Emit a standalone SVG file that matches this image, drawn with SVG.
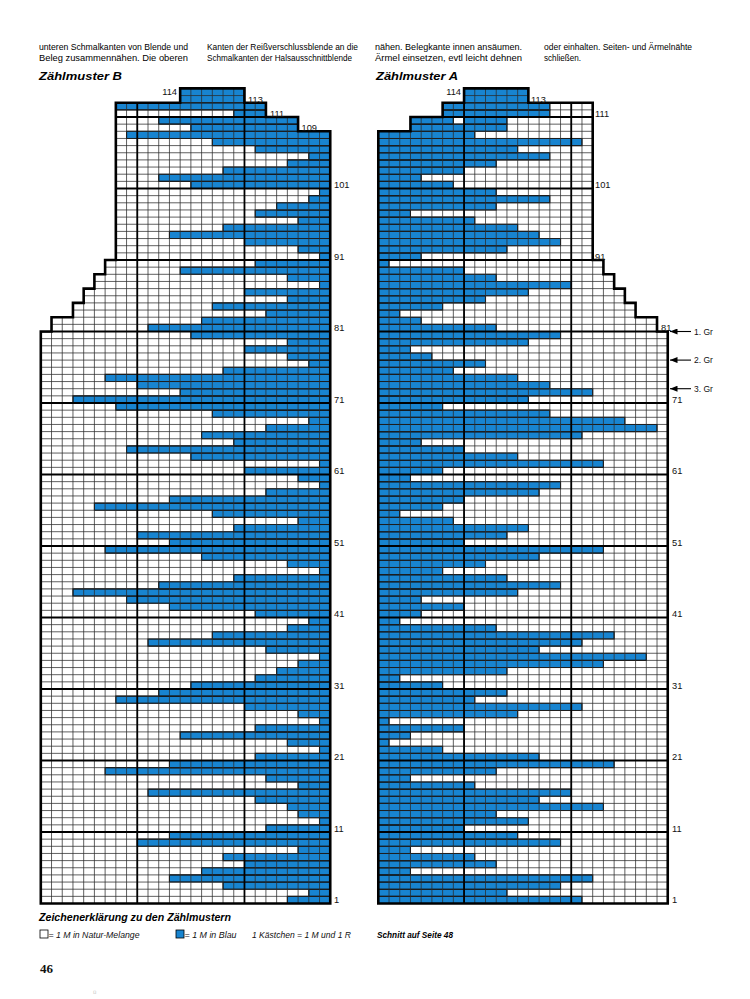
<svg xmlns="http://www.w3.org/2000/svg" xmlns:xlink="http://www.w3.org/1999/xlink" width="750" height="999" viewBox="0 0 750 999">
<style>
.body{font-family:"Liberation Sans Narrow","Liberation Sans",Arial,sans-serif;font-size:9.5px;fill:#000}
.head{font-family:"Liberation Sans",Arial,sans-serif;font-size:11.5px;font-weight:bold;font-style:italic;fill:#000}
.num{font-family:"Liberation Sans",Arial,sans-serif;font-size:9.3px;fill:#111}
.leg{font-family:"Liberation Sans Narrow","Liberation Sans",Arial,sans-serif;font-size:8.8px;font-style:italic;fill:#111}
.legb{font-family:"Liberation Sans",Arial,sans-serif;font-size:8.8px;font-style:italic;font-weight:bold;fill:#000}
.gr{font-family:"Liberation Sans",Arial,sans-serif;font-size:8.5px;fill:#111}
.paper{fill:#fff}
.blue rect{fill:#1884d0;stroke:#000;stroke-width:1.1px;vector-effect:non-scaling-stroke}
.thick{fill:none;stroke:#000;stroke-width:1.8px;vector-effect:non-scaling-stroke}
.outline{fill:none;stroke:#000;stroke-width:2.6px;stroke-linejoin:miter;vector-effect:non-scaling-stroke}
.arrow{stroke:#000;stroke-width:1.1;fill:none}
</style>
<defs>
<path id="hgrid" fill="none" stroke="#2b2b2b" stroke-width="0.75" vector-effect="non-scaling-stroke" d="M0 1H27M0 2H27M0 3H27M0 4H27M0 5H27M0 6H27M0 7H27M0 8H27M0 9H27M0 10H27M0 11H27M0 12H27M0 13H27M0 14H27M0 15H27M0 16H27M0 17H27M0 18H27M0 19H27M0 20H27M0 21H27M0 22H27M0 23H27M0 24H27M0 25H27M0 26H27M0 27H27M0 28H27M0 29H27M0 30H27M0 31H27M0 32H27M0 33H27M0 34H27M0 35H27M0 36H27M0 37H27M0 38H27M0 39H27M0 40H27M0 41H27M0 42H27M0 43H27M0 44H27M0 45H27M0 46H27M0 47H27M0 48H27M0 49H27M0 50H27M0 51H27M0 52H27M0 53H27M0 54H27M0 55H27M0 56H27M0 57H27M0 58H27M0 59H27M0 60H27M0 61H27M0 62H27M0 63H27M0 64H27M0 65H27M0 66H27M0 67H27M0 68H27M0 69H27M0 70H27M0 71H27M0 72H27M0 73H27M0 74H27M0 75H27M0 76H27M0 77H27M0 78H27M0 79H27M0 80H27M0 81H27M0 82H27M0 83H27M0 84H27M0 85H27M0 86H27M0 87H27M0 88H27M0 89H27M0 90H27M0 91H27M0 92H27M0 93H27M0 94H27M0 95H27M0 96H27M0 97H27M0 98H27M0 99H27M0 100H27M0 101H27M0 102H27M0 103H27M0 104H27M0 105H27M0 106H27M0 107H27M0 108H27M0 109H27M0 110H27M0 111H27M0 112H27M0 113H27"/>
<path id="vgrid" fill="none" stroke="#2b2b2b" stroke-width="0.75" vector-effect="non-scaling-stroke" d="M1 0V114M2 0V114M3 0V114M4 0V114M5 0V114M6 0V114M7 0V114M8 0V114M9 0V114M10 0V114M11 0V114M12 0V114M13 0V114M14 0V114M15 0V114M16 0V114M17 0V114M18 0V114M19 0V114M20 0V114M21 0V114M22 0V114M23 0V114M24 0V114M25 0V114M26 0V114"/>
<clipPath id="clipB"><polygon points="0,0 27,0 27,108 24,108 24,110 21,110 21,112 19,112 19,114 13,114 13,112 7,112 7,90 6,90 6,88 5,88 5,86 4,86 4,84 3,84 3,82 1,82 1,80 0,80"/></clipPath>
<clipPath id="clipA"><polygon points="0,0 27,0 27,80 26,80 26,82 24,82 24,84 23,84 23,86 22,86 22,88 21,88 21,90 20,90 20,112 14,112 14,114 8,114 8,112 6,112 6,110 3,110 3,108 0,108"/></clipPath>
<marker id="ah" viewBox="0 0 10 8" refX="10" refY="4" markerWidth="8" markerHeight="6" orient="auto" markerUnits="userSpaceOnUse"><path d="M0 0L10 4L0 8z" fill="#000"/></marker>
</defs>
<rect width="750" height="999" fill="#fff"/>

<g id="top-text">
<text class="body" x="39" y="49.5" textLength="149" lengthAdjust="spacingAndGlyphs">unteren Schmalkanten von Blende und</text>
<text class="body" x="39" y="60.5" textLength="149" lengthAdjust="spacingAndGlyphs">Beleg zusammennähen. Die oberen</text>
<text class="body" x="207" y="49.5" textLength="151" lengthAdjust="spacingAndGlyphs">Kanten der Reißverschlussblende an die</text>
<text class="body" x="207" y="60.5" textLength="145" lengthAdjust="spacingAndGlyphs">Schmalkanten der Halsausschnittblende</text>
<text class="body" x="375" y="49.5" textLength="147" lengthAdjust="spacingAndGlyphs">nähen. Belegkante innen ansäumen.</text>
<text class="body" x="375" y="60.5" textLength="147" lengthAdjust="spacingAndGlyphs">Ärmel einsetzen, evtl leicht dehnen</text>
<text class="body" x="544" y="49.5" textLength="148" lengthAdjust="spacingAndGlyphs">oder einhalten. Seiten- und Ärmelnähte</text>
<text class="body" x="544" y="60.5" textLength="37" lengthAdjust="spacingAndGlyphs">schließen.</text>
<text class="head" x="39" y="79.5" textLength="83" lengthAdjust="spacingAndGlyphs">Zählmuster B</text>
<text class="head" x="376" y="79.5" textLength="82" lengthAdjust="spacingAndGlyphs">Zählmuster A</text>
</g>

<g id="chart-B" transform="translate(40.8 903.5) scale(10.72 -7.15)">
<polygon class="paper" points="0,0 27,0 27,108 24,108 24,110 21,110 21,112 19,112 19,114 13,114 13,112 7,112 7,90 6,90 6,88 5,88 5,86 4,86 4,84 3,84 3,82 1,82 1,80 0,80"/>
<g class="blue">
<rect x="23" y="0" width="4" height="1"/><rect x="25" y="1" width="2" height="1"/><rect x="17" y="2" width="10" height="1"/><rect x="12" y="3" width="15" height="1"/><rect x="15" y="4" width="12" height="1"/><rect x="19" y="5" width="8" height="1"/><rect x="17" y="6" width="10" height="1"/><rect x="24" y="7" width="3" height="1"/><rect x="9" y="8" width="18" height="1"/><rect x="12" y="9" width="15" height="1"/>
<rect x="21" y="10" width="6" height="1"/><rect x="26" y="11" width="1" height="1"/><rect x="24" y="12" width="3" height="1"/><rect x="23" y="13" width="4" height="1"/><rect x="20" y="14" width="7" height="1"/><rect x="10" y="15" width="17" height="1"/><rect x="24" y="16" width="3" height="1"/><rect x="21" y="17" width="6" height="1"/><rect x="6" y="18" width="21" height="1"/><rect x="12" y="19" width="15" height="1"/>
<rect x="20" y="20" width="7" height="1"/><rect x="26" y="21" width="1" height="1"/><rect x="23" y="22" width="4" height="1"/><rect x="13" y="23" width="14" height="1"/><rect x="20" y="24" width="7" height="1"/><rect x="26" y="25" width="1" height="1"/><rect x="24" y="26" width="3" height="1"/><rect x="19" y="27" width="8" height="1"/><rect x="7" y="28" width="20" height="1"/><rect x="11" y="29" width="16" height="1"/>
<rect x="14" y="30" width="13" height="1"/><rect x="20" y="31" width="7" height="1"/><rect x="22" y="32" width="5" height="1"/><rect x="24" y="33" width="3" height="1"/><rect x="26" y="34" width="1" height="1"/><rect x="21" y="35" width="6" height="1"/><rect x="10" y="36" width="17" height="1"/><rect x="16" y="37" width="11" height="1"/><rect x="23" y="38" width="4" height="1"/><rect x="25" y="39" width="2" height="1"/>
<rect x="20" y="40" width="7" height="1"/><rect x="12" y="41" width="15" height="1"/><rect x="8" y="42" width="19" height="1"/><rect x="3" y="43" width="24" height="1"/><rect x="11" y="44" width="16" height="1"/><rect x="18" y="45" width="9" height="1"/><rect x="26" y="46" width="1" height="1"/><rect x="23" y="47" width="4" height="1"/><rect x="15" y="48" width="12" height="1"/><rect x="6" y="49" width="21" height="1"/>
<rect x="12" y="50" width="15" height="1"/><rect x="9" y="51" width="18" height="1"/><rect x="18" y="52" width="9" height="1"/><rect x="24" y="53" width="3" height="1"/><rect x="16" y="54" width="11" height="1"/><rect x="5" y="55" width="22" height="1"/><rect x="12" y="56" width="15" height="1"/><rect x="21" y="57" width="6" height="1"/><rect x="26" y="58" width="1" height="1"/><rect x="24" y="59" width="3" height="1"/>
<rect x="19" y="60" width="8" height="1"/><rect x="26" y="61" width="1" height="1"/><rect x="14" y="62" width="13" height="1"/><rect x="8" y="63" width="19" height="1"/><rect x="18" y="64" width="9" height="1"/><rect x="15" y="65" width="12" height="1"/><rect x="21" y="66" width="6" height="1"/><rect x="25" y="67" width="2" height="1"/><rect x="16" y="68" width="11" height="1"/><rect x="7" y="69" width="20" height="1"/>
<rect x="3" y="70" width="24" height="1"/><rect x="13" y="71" width="14" height="1"/><rect x="9" y="72" width="18" height="1"/><rect x="6" y="73" width="21" height="1"/><rect x="17" y="74" width="10" height="1"/><rect x="25" y="75" width="2" height="1"/><rect x="23" y="76" width="4" height="1"/><rect x="19" y="77" width="8" height="1"/><rect x="23" y="78" width="4" height="1"/><rect x="14" y="79" width="13" height="1"/>
<rect x="10" y="80" width="17" height="1"/><rect x="15" y="81" width="12" height="1"/><rect x="21" y="82" width="6" height="1"/><rect x="16" y="83" width="11" height="1"/><rect x="23" y="84" width="4" height="1"/><rect x="19" y="85" width="8" height="1"/><rect x="26" y="86" width="1" height="1"/><rect x="23" y="87" width="4" height="1"/><rect x="13" y="88" width="14" height="1"/><rect x="20" y="89" width="7" height="1"/>
<rect x="26" y="90" width="1" height="1"/><rect x="24" y="91" width="3" height="1"/><rect x="19" y="92" width="8" height="1"/><rect x="12" y="93" width="15" height="1"/><rect x="17" y="94" width="10" height="1"/><rect x="24" y="95" width="3" height="1"/><rect x="20" y="96" width="7" height="1"/><rect x="22" y="97" width="5" height="1"/><rect x="25" y="98" width="2" height="1"/><rect x="26" y="99" width="1" height="1"/>
<rect x="14" y="100" width="13" height="1"/><rect x="11" y="101" width="16" height="1"/><rect x="17" y="102" width="10" height="1"/><rect x="23" y="103" width="4" height="1"/><rect x="25" y="104" width="2" height="1"/><rect x="20" y="105" width="7" height="1"/><rect x="16" y="106" width="11" height="1"/><rect x="8" y="107" width="19" height="1"/><rect x="14" y="108" width="10" height="1"/><rect x="11" y="109" width="13" height="1"/>
<rect x="18" y="110" width="3" height="1"/><rect x="7" y="111" width="14" height="1"/><rect x="13" y="112" width="6" height="2"/>
</g>
<g clip-path="url(#clipB)">
<use href="#hgrid"/>
<use href="#vgrid"/>
<path class="thick" d="M0 10H27M0 20H27M0 30H27M0 40H27M0 50H27M0 60H27M0 70H27M0 80H27M0 90H27M0 100H27M0 110H27M9 0V114M19 0V114"/>
</g>
<polygon class="outline" points="0,0 27,0 27,108 24,108 24,110 21,110 21,112 19,112 19,114 13,114 13,112 7,112 7,90 6,90 6,88 5,88 5,86 4,86 4,84 3,84 3,82 1,82 1,80 0,80"/>
</g>

<g id="labels-B" class="num">
<text x="334" y="903.3">1</text>
<text x="334" y="831.8">11</text>
<text x="334" y="760.3">21</text>
<text x="334" y="688.8">31</text>
<text x="334" y="617.3">41</text>
<text x="334" y="545.8">51</text>
<text x="334" y="474.3">61</text>
<text x="334" y="402.8">71</text>
<text x="334" y="331.3">81</text>
<text x="334" y="259.8">91</text>
<text x="334" y="188.3">101</text>
<text x="301.5" y="131.1">109</text>
<text x="270" y="116.8">111</text>
<text x="248" y="102.5">113</text>
<text x="177" y="95.4" text-anchor="end">114</text>
</g>

<g id="chart-A" transform="translate(378.3 903.5) scale(10.72 -7.15)">
<polygon class="paper" points="0,0 27,0 27,80 26,80 26,82 24,82 24,84 23,84 23,86 22,86 22,88 21,88 21,90 20,90 20,112 14,112 14,114 8,114 8,112 6,112 6,110 3,110 3,108 0,108"/>
<g class="blue">
<rect x="0" y="0" width="19" height="1"/><rect x="0" y="1" width="12" height="1"/><rect x="0" y="2" width="17" height="1"/><rect x="0" y="3" width="20" height="1"/><rect x="0" y="4" width="3" height="1"/><rect x="0" y="5" width="11" height="1"/><rect x="0" y="6" width="9" height="1"/><rect x="0" y="7" width="3" height="1"/><rect x="0" y="8" width="17" height="1"/><rect x="0" y="9" width="13" height="1"/>
<rect x="0" y="10" width="8" height="1"/><rect x="0" y="11" width="14" height="1"/><rect x="0" y="12" width="11" height="1"/><rect x="0" y="13" width="21" height="1"/><rect x="0" y="14" width="15" height="1"/><rect x="0" y="15" width="18" height="1"/><rect x="0" y="16" width="9" height="1"/><rect x="0" y="17" width="3" height="1"/><rect x="0" y="18" width="11" height="1"/><rect x="0" y="19" width="22" height="1"/>
<rect x="0" y="20" width="15" height="1"/><rect x="0" y="21" width="6" height="1"/><rect x="0" y="22" width="1" height="1"/><rect x="0" y="23" width="3" height="1"/><rect x="0" y="24" width="8" height="1"/><rect x="0" y="25" width="1" height="1"/><rect x="0" y="26" width="13" height="1"/><rect x="0" y="27" width="19" height="1"/><rect x="0" y="28" width="9" height="1"/><rect x="0" y="29" width="12" height="1"/>
<rect x="0" y="30" width="6" height="1"/><rect x="0" y="31" width="2" height="1"/><rect x="0" y="32" width="12" height="1"/><rect x="0" y="33" width="21" height="1"/><rect x="0" y="34" width="25" height="1"/><rect x="0" y="35" width="15" height="1"/><rect x="0" y="36" width="19" height="1"/><rect x="0" y="37" width="22" height="1"/><rect x="0" y="38" width="11" height="1"/><rect x="0" y="39" width="2" height="1"/>
<rect x="0" y="40" width="4" height="1"/><rect x="0" y="41" width="8" height="1"/><rect x="0" y="42" width="4" height="1"/><rect x="0" y="43" width="13" height="1"/><rect x="0" y="44" width="17" height="1"/><rect x="0" y="45" width="12" height="1"/><rect x="0" y="46" width="6" height="1"/><rect x="0" y="47" width="10" height="1"/><rect x="0" y="48" width="15" height="1"/><rect x="0" y="49" width="21" height="1"/>
<rect x="0" y="50" width="8" height="1"/><rect x="0" y="51" width="12" height="1"/><rect x="0" y="52" width="14" height="1"/><rect x="0" y="53" width="7" height="1"/><rect x="0" y="54" width="2" height="1"/><rect x="0" y="55" width="6" height="1"/><rect x="0" y="56" width="8" height="1"/><rect x="0" y="57" width="15" height="1"/><rect x="0" y="58" width="17" height="1"/><rect x="0" y="59" width="3" height="1"/>
<rect x="0" y="60" width="6" height="1"/><rect x="0" y="61" width="21" height="1"/><rect x="0" y="62" width="13" height="1"/><rect x="0" y="63" width="8" height="1"/><rect x="0" y="64" width="4" height="1"/><rect x="0" y="65" width="19" height="1"/><rect x="0" y="66" width="26" height="1"/><rect x="0" y="67" width="23" height="1"/><rect x="0" y="68" width="16" height="1"/><rect x="0" y="69" width="6" height="1"/>
<rect x="0" y="70" width="14" height="1"/><rect x="0" y="71" width="20" height="1"/><rect x="0" y="72" width="16" height="1"/><rect x="0" y="73" width="13" height="1"/><rect x="0" y="74" width="7" height="1"/><rect x="0" y="75" width="10" height="1"/><rect x="0" y="76" width="5" height="1"/><rect x="0" y="77" width="3" height="1"/><rect x="0" y="78" width="14" height="1"/><rect x="0" y="79" width="17" height="1"/>
<rect x="0" y="80" width="11" height="1"/><rect x="0" y="81" width="4" height="1"/><rect x="0" y="82" width="2" height="1"/><rect x="0" y="83" width="6" height="1"/><rect x="0" y="84" width="10" height="1"/><rect x="0" y="85" width="14" height="1"/><rect x="0" y="86" width="18" height="1"/><rect x="0" y="87" width="11" height="1"/><rect x="0" y="88" width="8" height="1"/><rect x="0" y="89" width="1" height="1"/>
<rect x="0" y="90" width="4" height="1"/><rect x="0" y="91" width="12" height="1"/><rect x="0" y="92" width="17" height="1"/><rect x="0" y="93" width="15" height="1"/><rect x="0" y="94" width="13" height="1"/><rect x="0" y="95" width="9" height="1"/><rect x="0" y="96" width="3" height="1"/><rect x="0" y="97" width="11" height="1"/><rect x="0" y="98" width="16" height="1"/><rect x="0" y="99" width="11" height="1"/>
<rect x="0" y="100" width="7" height="1"/><rect x="0" y="101" width="4" height="1"/><rect x="0" y="102" width="8" height="1"/><rect x="0" y="103" width="11" height="1"/><rect x="0" y="104" width="16" height="1"/><rect x="0" y="105" width="13" height="1"/><rect x="0" y="106" width="19" height="1"/><rect x="0" y="107" width="9" height="1"/><rect x="3" y="108" width="9" height="1"/><rect x="3" y="109" width="4" height="1"/><rect x="8" y="109" width="4" height="1"/>
<rect x="6" y="110" width="10" height="1"/><rect x="6" y="111" width="10" height="1"/><rect x="8" y="112" width="6" height="2"/>
</g>
<g clip-path="url(#clipA)">
<use href="#hgrid"/>
<use href="#vgrid"/>
<path class="thick" d="M0 10H27M0 20H27M0 30H27M0 40H27M0 50H27M0 60H27M0 70H27M0 80H27M0 90H27M0 100H27M0 110H27M8 0V114M18 0V114"/>
</g>
<polygon class="outline" points="0,0 27,0 27,80 26,80 26,82 24,82 24,84 23,84 23,86 22,86 22,88 21,88 21,90 20,90 20,112 14,112 14,114 8,114 8,112 6,112 6,110 3,110 3,108 0,108"/>
</g>

<g id="labels-A" class="num">
<text x="672" y="903.3">1</text>
<text x="672" y="831.8">11</text>
<text x="672" y="760.3">21</text>
<text x="672" y="688.8">31</text>
<text x="672" y="617.3">41</text>
<text x="672" y="545.8">51</text>
<text x="672" y="474.3">61</text>
<text x="672" y="402.8">71</text>
<text x="661" y="331.3">81</text>
<text x="595" y="259.8">91</text>
<text x="595" y="188.3">101</text>
<text x="595" y="116.8">111</text>
<text x="531" y="102.5">113</text>
<text x="461" y="95.4" text-anchor="end">114</text>
</g>

<g id="connectors">
<line class="arrow" x1="691" y1="331.5" x2="670" y2="331.5" marker-end="url(#ah)"/>
<line class="arrow" x1="691" y1="360.1" x2="670" y2="360.1" marker-end="url(#ah)"/>
<line class="arrow" x1="691" y1="388.7" x2="670" y2="388.7" marker-end="url(#ah)"/>
</g>
<g id="arrow-labels" class="gr">
<text x="694" y="334.5">1. Gr</text>
<text x="694" y="363.1">2. Gr</text>
<text x="694" y="391.7">3. Gr</text>
</g>

<g id="legend">
<text class="head" x="39" y="921" textLength="192" lengthAdjust="spacingAndGlyphs">Zeichenerklärung zu den Zählmustern</text>
<rect x="40" y="930" width="8" height="8" fill="#fff" stroke="#000" stroke-width="0.8"/>
<text class="leg" x="48.5" y="937.5" textLength="91" lengthAdjust="spacingAndGlyphs">= 1 M in Natur-Melange</text>
<rect x="176" y="930" width="8" height="8" fill="#1884d0" stroke="#000" stroke-width="0.8"/>
<text class="leg" x="184.5" y="937.5" textLength="52" lengthAdjust="spacingAndGlyphs">= 1 M in Blau</text>
<text class="leg" x="252" y="937.5" textLength="99" lengthAdjust="spacingAndGlyphs">1 Kästchen = 1 M und 1 R</text>
<text class="legb" x="377" y="937.5" textLength="76" lengthAdjust="spacingAndGlyphs">Schnitt auf Seite 48</text>
</g>
<text x="40" y="973" font-family="'Liberation Serif','Times New Roman',serif" font-weight="bold" font-size="13" fill="#111">46</text>
<text x="93" y="994" font-family="'Liberation Sans',Arial,sans-serif" font-size="6" fill="#c8c8c8">ü</text>
</svg>
